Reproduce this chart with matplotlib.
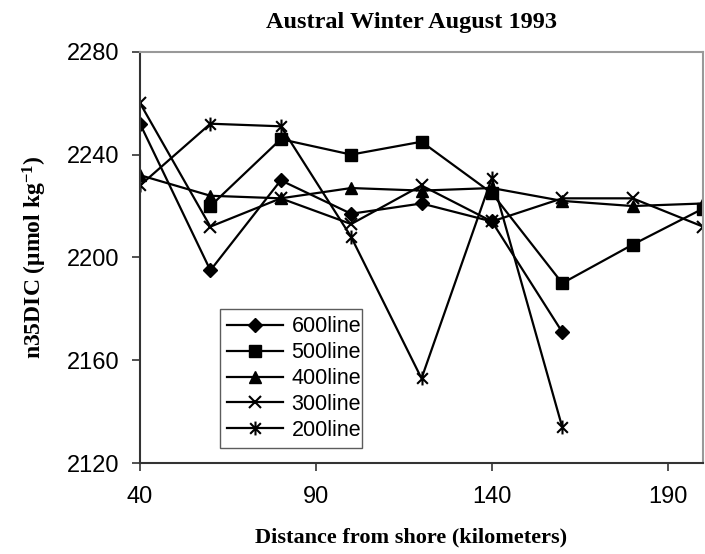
import numpy as np
import matplotlib
matplotlib.use("Agg")
import matplotlib.pyplot as plt
from matplotlib.path import Path

plt.rcParams['font.family'] = ['Liberation Sans', 'DejaVu Sans']
plt.rcParams['mathtext.fontset'] = 'custom'
plt.rcParams['mathtext.rm'] = 'Liberation Serif:bold'
plt.rcParams['mathtext.it'] = 'Liberation Serif:bold'
plt.rcParams['mathtext.bf'] = 'Liberation Serif:bold'

# Distance from shore (km) and DIC for each transect line
distance = [40, 60, 80, 100, 120, 140, 160, 180, 200]
line600 = [2252, 2195, 2230, 2217, 2221, 2214, 2171, np.nan, np.nan]
line500 = [np.nan, 2220, 2246, 2240, 2245, 2225, 2190, 2205, 2219]
line400 = [2232, 2224, 2223, 2227, 2226, 2227, 2222, 2220, 2221]
line300 = [2260, 2212, 2223, 2213, 2228, 2214, 2223, 2223, 2212]
line200 = [2228, 2252, 2251, 2208, 2153, 2231, 2134, np.nan, np.nan]
series_names = ['600line', '500line', '400line', '300line', '200line']

xticks = [40, 90, 140, 190]
yticks = [2120, 2160, 2200, 2240, 2280]

# asterisk marker: X plus a vertical stroke
asterisk = Path([(-1, -1), (1, 1), (-1, 1), (1, -1), (0, -1.3), (0, 1.3)],
                [Path.MOVETO, Path.LINETO, Path.MOVETO, Path.LINETO,
                 Path.MOVETO, Path.LINETO])

fig = plt.figure(figsize=(7.05, 5.54), dpi=100)
ax = fig.add_axes([0.1986, 0.1637, 0.7986, 0.743])

styles = [
    dict(marker='D', ms=7),
    dict(marker='s', ms=8),
    dict(marker='^', ms=9),
    dict(marker='x', ms=9, mew=1.5),
    dict(marker=asterisk, ms=10, mew=1.5),
]
data = [line600, line500, line400, line300, line200]
for vals, name, st in zip(data, series_names, styles):
    ax.plot(distance, vals, color='black', lw=1.6, mfc='black', mec='black',
            label=name, **st)

ax.set_xlim(40, 200)
ax.set_ylim(2120, 2280)
ax.set_xticks(xticks)
ax.set_yticks(yticks)
ax.tick_params(axis='both', direction='out', length=6, width=1.2,
               labelsize=17, color='#333333', pad=10)
ax.tick_params(axis='y', pad=9)

for side in ['left', 'bottom']:
    ax.spines[side].set_color('#333333')
    ax.spines[side].set_linewidth(1.5)
for side in ['top', 'right']:
    ax.spines[side].set_color('#999999')
    ax.spines[side].set_linewidth(1.5)

leg = ax.legend(loc='lower left', bbox_to_anchor=(0.142, 0.037, 0.252, 0.338),
                mode='expand', fontsize=15.5, frameon=True, fancybox=False,
                edgecolor='#333333', handlelength=2.6, handletextpad=0.4,
                labelspacing=0.23, borderpad=0.33, borderaxespad=0)
leg.get_frame().set_linewidth(1.0)

serif = ['Liberation Serif', 'DejaVu Serif']
fig.text(0.583, 0.960, 'Austral Winter August 1993', ha='center', va='center',
         fontsize=17.5, fontweight='bold', family=serif)
fig.text(0.583, 0.029, 'Distance from shore (kilometers)', ha='center',
         va='center', fontsize=16, fontweight='bold', family=serif)
fig.text(0.049, 0.536, 'n35DIC (\u03bcmol kg$^{\\mathregular{-1}}$)',
         rotation=90, ha='center', va='center', fontsize=17,
         fontweight='bold', family=serif)

fig.savefig('out.png', dpi=100)
